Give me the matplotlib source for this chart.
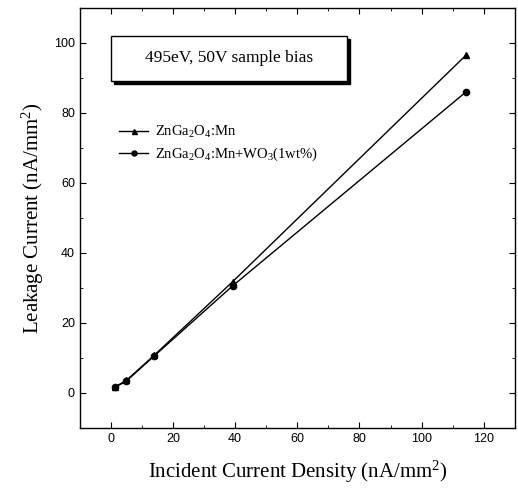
import matplotlib
matplotlib.use("Agg")
import matplotlib.pyplot as plt
from matplotlib.patches import Rectangle
from matplotlib.ticker import MultipleLocator

# incident current density (nA/mm^2)
x_inc = [1.3, 5.0, 14.0, 39.2, 114.3]
# leakage current (nA/mm^2)
y_mn = [1.7, 3.6, 10.8, 31.8, 96.5]
y_mn_wo3 = [1.6, 3.4, 10.6, 30.6, 86.0]

labels = [r"ZnGa$_2$O$_4$:Mn", r"ZnGa$_2$O$_4$:Mn+WO$_3$(1wt%)"]

plt.rcParams["mathtext.fontset"] = "custom"
plt.rcParams["mathtext.rm"] = "Liberation Serif"
plt.rcParams["mathtext.it"] = "Liberation Serif"

fig = plt.figure(figsize=(5.18, 4.88), dpi=100)
ax = fig.add_axes([0.154, 0.123, 0.840, 0.861])

ax.plot(x_inc, y_mn, "-^", color="black", lw=1.0, ms=4.5, label=labels[0])
ax.plot(x_inc, y_mn_wo3, "-o", color="black", lw=1.0, ms=4.5, label=labels[1])

ax.set_xlim(-10, 130)
ax.set_ylim(-10, 110)
ax.xaxis.set_major_locator(MultipleLocator(20))
ax.xaxis.set_minor_locator(MultipleLocator(10))
ax.yaxis.set_major_locator(MultipleLocator(20))
ax.yaxis.set_minor_locator(MultipleLocator(10))
ax.tick_params(which="both", direction="in", top=True, right=True)
ax.tick_params(which="major", length=4, labelsize=9)
ax.tick_params(which="minor", length=2)
for t in ax.get_xticklabels() + ax.get_yticklabels():
    t.set_fontfamily("Liberation Sans")
for s in ax.spines.values():
    s.set_linewidth(1.0)

ax.set_xlabel(r"Incident Current Density (nA/mm$^2$)", fontsize=15,
              family="Liberation Serif", labelpad=10)
ax.set_ylabel(r"Leakage Current (nA/mm$^2$)", fontsize=15,
              family="Liberation Serif", labelpad=6)

leg = ax.legend(loc="upper left", bbox_to_anchor=(0.06, 0.755), frameon=False,
                prop={"family": "Liberation Serif", "size": 10.5},
                handlelength=2.0, handletextpad=0.5, labelspacing=0.4,
                markerscale=0.8)

# text box with drop shadow
x0, y0, w, h = 0.071, 0.826, 0.543, 0.107
ax.add_patch(Rectangle((x0 + 0.008, y0 - 0.008), w, h, transform=ax.transAxes,
                       facecolor="black", edgecolor="black", zorder=3))
ax.add_patch(Rectangle((x0, y0), w, h, transform=ax.transAxes,
                       facecolor="white", edgecolor="black", lw=1.0, zorder=4))
ax.text(x0 + w / 2, y0 + h / 2, "495eV, 50V sample bias", transform=ax.transAxes,
        ha="center", va="center", fontsize=12.5, family="Liberation Serif", zorder=5)

fig.savefig("out.png", dpi=100)
